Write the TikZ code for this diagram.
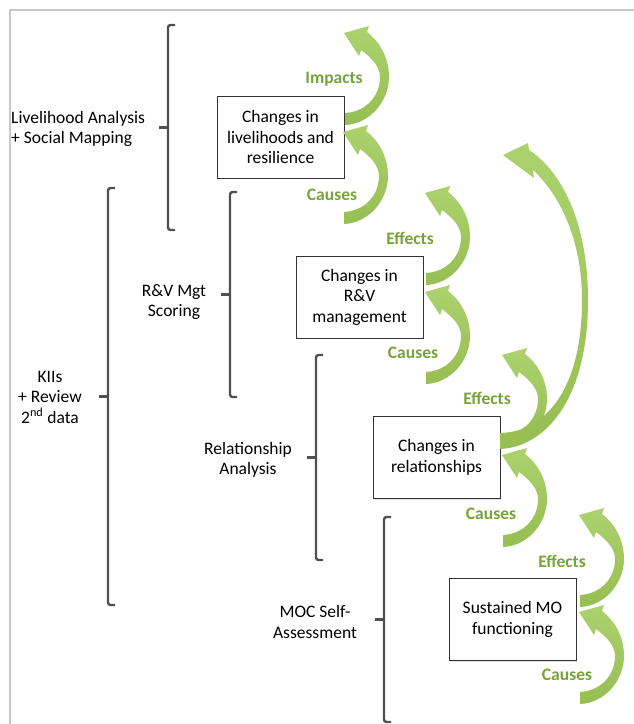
\documentclass[tikz,border=0pt]{standalone}
\usepackage{fontspec}
\setmainfont{Carlito}
\usetikzlibrary{shadows}
\definecolor{arrowgreen}{RGB}{150,190,82}
\definecolor{arrowlight}{RGB}{172,210,110}
\definecolor{textgreen}{RGB}{119,163,59}
\definecolor{brk}{RGB}{80,80,80}
\definecolor{framegray}{RGB}{200,200,200}
\tikzset{
  lbl/.style={font=\fontsize{17.5}{20.5}\selectfont, align=center, inner sep=0pt},
  glbl/.style={font=\fontsize{17.5}{20.5}\selectfont\bfseries, text=textgreen, inner sep=0pt},
  box/.style={draw=black!80, line width=1pt, fill=white, minimum width=127pt, minimum height=82pt, align=center, inner sep=0pt, font=\fontsize{17.5}{20.5}\selectfont,
    drop shadow={shadow xshift=1.2pt, shadow yshift=-1.2pt, opacity=0.25}},
  brace/.style={draw=brk, line width=2.4pt, rounded corners=2.5pt},
  tick/.style={draw=brk, line width=2.4pt},
  garrow/.style={top color=arrowlight, bottom color=arrowgreen, draw=none},
  pics/curvearrow/.style={code={
    \shade[garrow] (0,0) .. controls (25,-1) and (44,-24) .. (44,-48)
      .. controls (44,-68) and (34,-84) .. (22,-93) -- (24,-99) -- (-1,-92) -- (14,-69) -- (16,-75)
      .. controls (27,-67) and (35,-58) .. (35,-48) .. controls (35,-28) and (20,-13) .. (0,-12) -- cycle;
  }}
}
\newcommand{\mybracket}[4]{% x, top, bottom, mid
  \draw[brace] (#1+7,#2) -- (#1,#2) -- (#1,#3) -- (#1+7,#3);
  \draw[tick] (#1,#4) -- (#1-9,#4);
}
\begin{document}
\begin{tikzpicture}[x=1pt,y=-1pt]
\useasboundingbox (0,0) rectangle (634,724);
\fill[white] (0,0) rectangle (634,724);
% frame
\draw[framegray, line width=2pt] (10,724) -- (10,10) -- (634,10);

% brackets
\mybracket{168}{25}{230}{127.5}
\mybracket{108}{188}{605}{396.5}
\mybracket{230}{192}{397}{294.5}
\mybracket{316}{355}{560}{457.5}
\mybracket{384}{517}{722}{619.5}

% method labels
\node[lbl, anchor=west, align=left] (liv) at (11,129) {Livelihood Analysis\\+ Social Mapping};
\node[lbl] (kii) at (50,397) {KIIs\\+ Review\\2\textsuperscript{nd} data};
\node[lbl] (rv) at (174,302) {R\&V Mgt\\Scoring};
\node[lbl] (rel) at (248,460) {Relationship\\Analysis};
\node[lbl] (moc) at (315,622) {MOC Self-\\Assessment};

% boxes
\node[box] (b1) at (280.5,137) {Changes in\\livelihoods and\\resilience};
\node[box] (b2) at (359.5,297) {Changes in\\R\&V\\management};
\node[box] (b3) at (436.5,457.5) {Changes in\\relationships};
\node[box] (b4) at (512.5,619.5) {Sustained MO\\functioning};

% arrow anchors
\coordinate (a1) at (345,125);
\coordinate (a2) at (344,224);
\coordinate (a3) at (426,285);
\coordinate (a4) at (426,384);
\coordinate (a5) at (503,447);
\coordinate (a7) at (503,547);
\coordinate (a8) at (580,607);
\coordinate (a9) at (580,704);
\pic at (a1) {curvearrow};
\pic at (a2) {curvearrow};
\pic at (a3) {curvearrow};
\pic at (a4) {curvearrow};
\pic at (a5) {curvearrow};
\pic at (a7) {curvearrow};
\pic at (a8) {curvearrow};
\pic at (a9) {curvearrow};

% big arrow
\shade[garrow] (500,449) .. controls (545,447) and (588,400) .. (588,300)
  .. controls (588,220) and (560,170) .. (529,150) -- (528,143) -- (503,155) -- (534,178) -- (533,170)
  .. controls (560,195) and (582,240) .. (582,300) .. controls (582,390) and (545,432) .. (500,433) -- cycle;

% green labels
\node[glbl] (g1) at (334,79) {Impacts};
\node[glbl] (g2) at (332,195) {Causes};
\node[glbl] (g3) at (410,238) {Effects};
\node[glbl] (g4) at (413,353) {Causes};
\node[glbl] (g5) at (487,398) {Effects};
\node[glbl] (g6) at (491,514) {Causes};
\node[glbl] (g7) at (562,561) {Effects};
\node[glbl] (g8) at (567,675) {Causes};
\end{tikzpicture}
\end{document}
